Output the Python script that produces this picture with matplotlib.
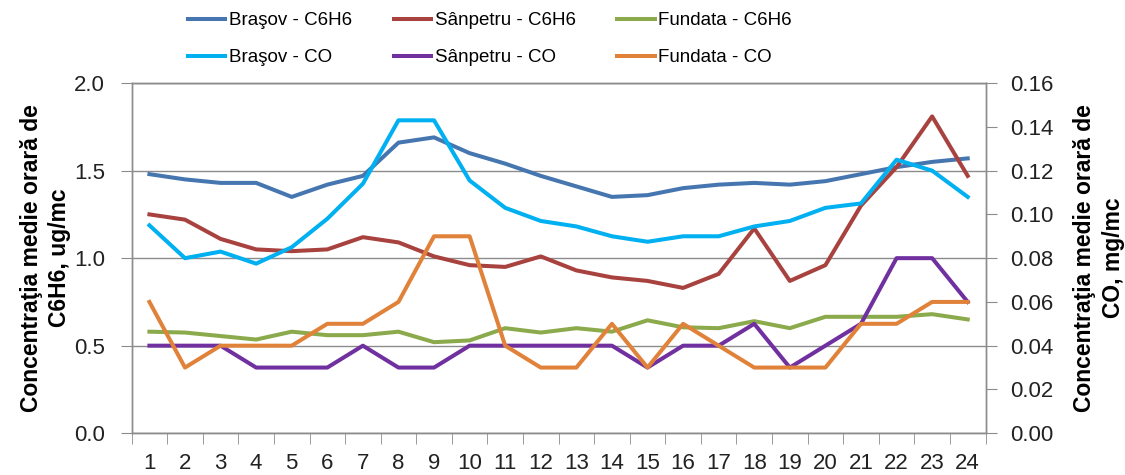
import numpy as np
import matplotlib.pyplot as plt

# hours of the day
hours = list(range(1, 25))

# C6H6, ug/mc (left axis)
brasov_c6h6 = [1.48, 1.45, 1.43, 1.43, 1.35, 1.42, 1.47, 1.66, 1.69, 1.60, 1.54, 1.47,
               1.41, 1.35, 1.36, 1.40, 1.42, 1.43, 1.42, 1.44, 1.48, 1.52, 1.55, 1.57]
sanpetru_c6h6 = [1.25, 1.22, 1.11, 1.05, 1.04, 1.05, 1.12, 1.09, 1.01, 0.96, 0.95, 1.01,
                 0.93, 0.89, 0.87, 0.83, 0.91, 1.17, 0.87, 0.96, 1.30, 1.52, 1.81, 1.47]
fundata_c6h6 = [0.58, 0.575, 0.555, 0.535, 0.58, 0.56, 0.56, 0.58, 0.52, 0.53, 0.60, 0.575,
                0.60, 0.58, 0.645, 0.605, 0.60, 0.64, 0.60, 0.665, 0.665, 0.665, 0.68, 0.65]

# CO, mg/mc (right axis)
brasov_co = [0.095, 0.080, 0.083, 0.0775, 0.085, 0.098, 0.114, 0.143, 0.143, 0.1155, 0.103, 0.097,
             0.0945, 0.090, 0.0875, 0.090, 0.090, 0.0945, 0.097, 0.103, 0.105, 0.125, 0.120, 0.108]
sanpetru_co = [0.04, 0.04, 0.04, 0.03, 0.03, 0.03, 0.04, 0.03, 0.03, 0.04, 0.04, 0.04,
               0.04, 0.04, 0.03, 0.04, 0.04, 0.05, 0.03, 0.04, 0.05, 0.08, 0.08, 0.06]
fundata_co = [0.06, 0.03, 0.04, 0.04, 0.04, 0.05, 0.05, 0.06, 0.09, 0.09, 0.04, 0.03,
              0.03, 0.05, 0.03, 0.05, 0.04, 0.03, 0.03, 0.03, 0.05, 0.05, 0.06, 0.06]

plt.rcParams['font.family'] = ['Liberation Sans', 'DejaVu Sans']

fig = plt.figure(figsize=(11.25, 4.75), dpi=100)
ax = fig.add_axes([0.117, 0.088, 0.759, 0.737])
ax2 = ax.twinx()

lw = 2.9
l1, = ax.plot(hours, brasov_c6h6, color='#4676B0', lw=lw, label='Braşov - C6H6', zorder=3)
l2, = ax.plot(hours, sanpetru_c6h6, color='#A8423F', lw=lw, label='Sânpetru - C6H6', zorder=3)
l3, = ax.plot(hours, fundata_c6h6, color='#8BAA4C', lw=lw, label='Fundata - C6H6', zorder=3)
l4, = ax2.plot(hours, brasov_co, color='#00B0F0', lw=lw, label='Braşov - CO')
l5, = ax2.plot(hours, sanpetru_co, color='#7030A0', lw=lw, label='Sânpetru - CO')
l6, = ax2.plot(hours, fundata_co, color='#E0823A', lw=lw, label='Fundata - CO')

grey = '#8C8C8C'
ax.set_xlim(0.5, 24.5)
ax.set_ylim(0, 2.0)
ax2.set_ylim(0, 0.16)
ax.set_yticks(np.arange(0, 2.01, 0.5))
ax.set_yticklabels([f'{v:.1f}' for v in np.arange(0, 2.01, 0.5)])
ax2.set_yticks(np.arange(0, 0.161, 0.02))
ax2.set_yticklabels([f'{v:.2f}' for v in np.arange(0, 0.161, 0.02)])
ax.set_xticks(hours)
ax.set_xticklabels([str(h) for h in hours])
ax.set_xticks(np.arange(0.5, 25, 1), minor=True)
ax.tick_params(axis='x', which='major', length=0, pad=14, labelsize=16, colors='#222222')
ax.tick_params(axis='x', which='minor', length=8, color=grey, direction='out')
ax.tick_params(axis='y', length=8, color=grey, labelsize=16, labelcolor='#222222', pad=11)
ax2.tick_params(axis='y', length=8, color=grey, labelsize=16, labelcolor='#222222', pad=10)
ax.yaxis.grid(True, color=grey, lw=1)
ax.set_axisbelow(True)
for a in (ax, ax2):
    for s in a.spines.values():
        s.set_color(grey)
        s.set_linewidth(1)

ylab_font = dict(fontsize=16.5, fontweight='bold')
ax.set_ylabel('Concentraţia medie orară de\nC6H6, ug/mc', labelpad=2, linespacing=1.3, **ylab_font)
ax2.set_ylabel('Concentraţia medie orară de\nCO, mg/mc', labelpad=14, linespacing=1.3, **ylab_font)

handles = [l1, l4, l2, l5, l3, l6]
fig.legend(handles, [h.get_label() for h in handles], ncol=3, loc='upper left',
           bbox_to_anchor=(0.152, 1.01), frameon=False, fontsize=13.5,
           handlelength=2.0, handletextpad=0.2, columnspacing=2.2, labelspacing=1.05)

plt.savefig('out.png', dpi=100)
